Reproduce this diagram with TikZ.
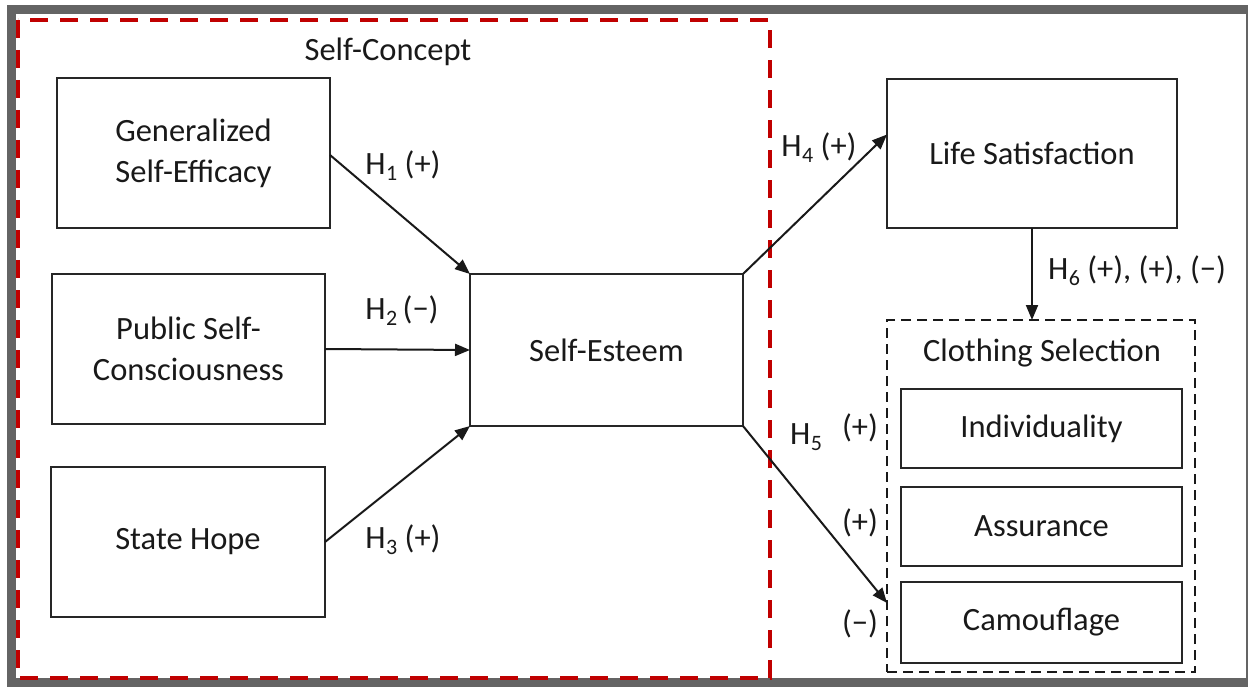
\documentclass[tikz,border=0pt]{standalone}
\usepackage{fontspec}
\setmainfont{Carlito}
\usetikzlibrary{arrows.meta,calc}
\definecolor{framegray}{RGB}{100,100,100}
\definecolor{darkred}{RGB}{192,0,0}
\newcommand{\hsub}[1]{H\kern0.5pt\raisebox{-6pt}{\fontsize{22}{22}\selectfont #1}}
\begin{document}
\begin{tikzpicture}[x=1pt,y=-1pt,
  box/.style={draw=black!85, line width=2pt, inner sep=0pt, outer sep=0pt, align=center, text=black!90, font=\fontsize{32.5}{41}\selectfont},
  lbl/.style={font=\fontsize{32.5}{41}\selectfont, inner sep=0pt, text=black!90},
  arr/.style={line width=2pt, black!90, -{Triangle[length=15pt,width=12pt]}}]
\useasboundingbox (0,0) rectangle (1248,687);
\begin{scope}
\clip (0,0) rectangle (1248,687);
\draw[line width=9pt, framegray] (11,10) rectangle (1250,682.5);
\end{scope}
\draw[darkred, line width=4pt, dash pattern=on 18pt off 12pt] (18,20) rectangle (770,678);
\node[lbl] (sc) at (388,52) {Self-Concept};

\node[box, minimum width=273pt, minimum height=150pt] (gse) at (193.5,153) {Generalized\\Self-Efficacy};
\node[box, minimum width=273pt, minimum height=150pt] (psc) at (188.5,349) {Public Self-\\Consciousness};
\node[box, minimum width=274pt, minimum height=150pt] (sh) at (188,542) {State Hope};
\node[box, minimum width=273pt, minimum height=152pt] (se) at (606.5,350) {Self-Esteem};
\node[box, minimum width=290pt, minimum height=149pt] (ls) at (1032,153.5) {Life Satisfaction};
\node[draw=black!90, line width=2.5pt, dash pattern=on 10pt off 6pt, minimum width=308pt, minimum height=352pt, inner sep=0pt, outer sep=0pt] (cs) at (1041,496) {};
\node[lbl] (cst) at (1042,353) {Clothing Selection};
\node[box, minimum width=281pt, minimum height=79pt] (ind) at (1041.5,428.5) {Individuality};
\node[box, minimum width=281pt, minimum height=79pt] (ass) at (1041.5,526.5) {Assurance};
\node[box, minimum width=281pt, minimum height=81pt] (cam) at (1041.5,622.5) {Camouflage};

\draw[arr] ([yshift=-2pt]gse.east) -- (se.north west);
\draw[arr] (psc.east) -- (se.west);
\draw[arr] (sh.east) -- (se.south west);
\draw[arr] (se.north east) -- ([yshift=19pt]ls.west);
\draw[arr] (se.south east) -- ([yshift=-107pt]cs.west);
\draw[arr] (ls.south) -- (ls.south |- cs.north);

\node[lbl] (h1) at (403,166) {\hsub{1} (+)};
\node[lbl] (h2) at (402,311) {\hsub{2}\,(−)};
\node[lbl] (h3) at (403,540) {\hsub{3} (+)};
\node[lbl] (h4) at (819,148) {\hsub{4} (+)};
\node[lbl] (h6) at (1137,271) {\hsub{6} (+), (+), (−)};
\node[lbl] (h5) at (806,437) {\hsub{5}};
\node[lbl] (p1) at (860,428) {(+)};
\node[lbl] (p2) at (860,523) {(+)};
\node[lbl] (p3) at (860,624) {(−)};
\end{tikzpicture}
\end{document}
